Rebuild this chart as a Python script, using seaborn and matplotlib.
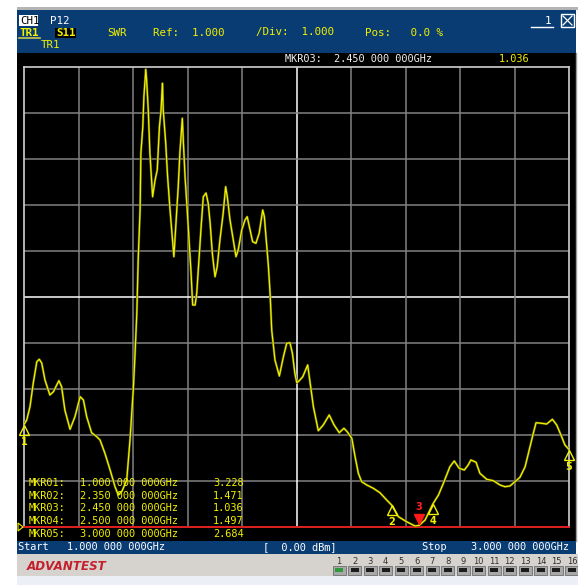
import matplotlib
matplotlib.use("Agg")
import matplotlib.pyplot as plt
import pandas as pd
import seaborn as sns
from matplotlib.patches import Rectangle, Polygon
from matplotlib.transforms import offset_copy

# ---- sweep settings ----
start_ghz, stop_ghz = 1.0, 3.0
ref_swr, swr_per_div = 1.0, 1.0
n_div = 10

# ---- measured S11 SWR trace ----
freq_ghz = [
    1.000, 1.010, 1.022, 1.034, 1.047, 1.056, 1.065, 1.077, 1.095, 1.108,
    1.128, 1.138, 1.150, 1.169, 1.187, 1.206, 1.218, 1.230, 1.248, 1.267,
    1.279, 1.297, 1.316, 1.334, 1.346, 1.360, 1.377, 1.389, 1.401, 1.407,
    1.414, 1.419, 1.426, 1.429, 1.436, 1.440, 1.447, 1.450, 1.456, 1.462,
    1.468, 1.472, 1.481, 1.489, 1.497, 1.503, 1.508, 1.511, 1.520, 1.527,
    1.536, 1.544, 1.550, 1.557, 1.566, 1.572, 1.581, 1.585, 1.591, 1.599,
    1.607, 1.613, 1.619, 1.628, 1.634, 1.642, 1.650, 1.658, 1.668, 1.676,
    1.683, 1.691, 1.701, 1.709, 1.719, 1.731, 1.740, 1.746, 1.756, 1.768,
    1.778, 1.786, 1.799, 1.811, 1.819, 1.827, 1.839, 1.851, 1.863, 1.876,
    1.882, 1.891, 1.897, 1.903, 1.909, 1.921, 1.937, 1.952, 1.964, 1.976,
    1.985, 1.994, 2.001, 2.010, 2.023, 2.041, 2.050, 2.062, 2.080, 2.098,
    2.120, 2.138, 2.157, 2.174, 2.186, 2.203, 2.215, 2.227, 2.239, 2.258,
    2.282, 2.306, 2.331, 2.350, 2.374, 2.404, 2.435, 2.450, 2.472, 2.500,
    2.521, 2.539, 2.551, 2.563, 2.579, 2.597, 2.616, 2.630, 2.640, 2.659,
    2.673, 2.698, 2.722, 2.747, 2.765, 2.783, 2.802, 2.820, 2.839, 2.857,
    2.869, 2.879, 2.900, 2.918, 2.939, 2.955, 2.973, 2.985, 3.000]
swr = [
    3.228, 3.326, 3.615, 4.130, 4.593, 4.646, 4.565, 4.196, 3.870, 3.941,
    4.180, 4.050, 3.543, 3.124, 3.398, 3.833, 3.761, 3.398, 3.050, 2.963,
    2.891, 2.602, 2.239, 1.876, 1.696, 1.783, 2.022, 2.891, 3.978, 4.702,
    5.646, 6.804, 7.891, 9.130, 9.702, 10.354, 10.950, 10.717, 10.065, 9.130,
    8.543, 8.180, 8.543, 8.761, 9.702, 10.065, 10.646, 10.065, 9.348, 8.615,
    7.891, 7.311, 6.876, 7.528, 8.398, 9.130, 9.885, 9.348, 8.615, 7.891,
    7.093, 6.522, 5.826, 5.826, 6.087, 6.804, 7.528, 8.180, 8.261, 8.037,
    7.609, 6.957, 6.441, 6.659, 7.239, 7.826, 8.398, 8.180, 7.674, 7.239,
    6.876, 7.022, 7.457, 7.674, 7.746, 7.528, 7.202, 7.167, 7.385, 7.891,
    7.746, 7.093, 6.659, 6.087, 5.283, 4.630, 4.283, 4.702, 4.993, 5.007,
    4.776, 4.341, 4.137, 4.180, 4.267, 4.522, 4.130, 3.615, 3.093, 3.217,
    3.435, 3.217, 3.050, 3.146, 3.072, 2.928, 2.528, 2.167, 1.985, 1.913,
    1.841, 1.746, 1.587, 1.471, 1.224, 1.115, 1.022, 1.036, 1.152, 1.497,
    1.696, 1.950, 2.130, 2.311, 2.435, 2.276, 2.239, 2.348, 2.457, 2.407,
    2.167, 2.037, 2.007, 1.913, 1.876, 1.891, 1.985, 2.080, 2.311, 2.746,
    3.037, 3.267, 3.254, 3.239, 3.341, 3.217, 2.963, 2.783, 2.684]

# ---- markers ----
mkr_names = ["MKR01", "MKR02", "MKR03", "MKR04", "MKR05"]
mkr_freq = [1.000, 2.350, 2.450, 2.500, 3.000]
mkr_swr = [3.228, 1.471, 1.036, 1.497, 2.684]
active_mkr = 2

button_labels = [str(i) for i in range(1, 17)]

W, H = 578, 585
YEL = "#f0f000"
BLUE = "#0a3c74"
MONO = "DejaVu Sans Mono"

fig = plt.figure(figsize=(W / 100, H / 100), dpi=100, facecolor="white")

# pixel-space layer behind the graticule
bg = fig.add_axes([0, 0, 1, 1], zorder=0)
bg.set_xlim(0, W); bg.set_ylim(H, 0); bg.axis("off")

def rect(axx, x0, y0, x1, y1, fc, ec="none", lw=0, **kw):
    axx.add_patch(Rectangle((x0, y0), x1 - x0, y1 - y0, facecolor=fc,
                            edgecolor=ec, linewidth=lw, **kw))

rect(bg, 17, 7, 578, 10, "#b4b4b4")
rect(bg, 17, 10, 576, 53, BLUE)
rect(bg, 17, 53, 576, 541, "black")
rect(bg, 17, 541, 576, 554, BLUE)
rect(bg, 17, 554, 578, 576, "#d6d3ce")
rect(bg, 17, 576, 578, 585, "#eceff6")
bg.plot([576, 576], [53, 541], color="#9a9a9a", lw=1)

# ---- graticule ----
gx0, gx1, gy0, gy1 = 24, 569, 67, 527
ax = fig.add_axes([gx0 / W, 1 - gy1 / H, (gx1 - gx0) / W, (gy1 - gy0) / H], zorder=2)
ax.set_facecolor("black")
ax.set_xlim(start_ghz, stop_ghz)
ax.set_ylim(ref_swr, ref_swr + n_div * swr_per_div)
ax.set_xticks([]); ax.set_yticks([])
for s in ax.spines.values():
    s.set_color("#d0d0d0"); s.set_linewidth(1.2)

step_f = (stop_ghz - start_ghz) / n_div
for i in range(1, n_div):
    c = "white" if i == n_div // 2 else "#828282"
    ax.axvline(start_ghz + i * step_f, color=c, lw=1.1, zorder=1)
    ax.axhline(ref_swr + i * swr_per_div, color=c, lw=1.1, zorder=1)
ax.axhline(ref_swr, color="#e01010", lw=1.3, zorder=3, clip_on=False)

trace = pd.DataFrame({"freq": freq_ghz, "swr": swr})
sns.lineplot(data=trace, x="freq", y="swr", ax=ax, color="#5c5c00",
             linewidth=1.7, estimator=None, zorder=4)
sns.lineplot(data=trace, x="freq", y="swr", ax=ax, color=YEL,
             linewidth=0.9, estimator=None, zorder=5)
ax.set_xlabel(""); ax.set_ylabel("")

# marker symbols
for i, (f, v) in enumerate(zip(mkr_freq, mkr_swr)):
    if i == active_mkr:
        tr = offset_copy(ax.transData, fig=fig, x=0, y=6, units="dots")
        ax.plot([f], [v], marker="v", ms=7.5, color="#ff1a1a", mec="#ff1a1a",
                transform=tr, clip_on=False, zorder=8)
        ax.annotate(str(i + 1), (f, v), xytext=(0, 18), textcoords="offset pixels",
                    ha="center", va="center", color="#ff2020", fontsize=7,
                    fontweight="bold", annotation_clip=False, zorder=8)
    else:
        tr = offset_copy(ax.transData, fig=fig, x=0, y=-5, units="dots")
        ax.plot([f], [v], marker="^", ms=7, mfc="none", mec=YEL, mew=1.0,
                transform=tr, clip_on=False, zorder=8)
        ax.annotate(str(i + 1), (f, v), xytext=(0, -17), textcoords="offset pixels",
                    ha="center", va="center", color=YEL, fontsize=7,
                    fontweight="bold", annotation_clip=False, zorder=8)

# ---- foreground text layer ----
fg = fig.add_axes([0, 0, 1, 1], zorder=5)
fg.set_xlim(0, W); fg.set_ylim(H, 0); fg.axis("off"); fg.patch.set_alpha(0)

def txt(x, y, s, color="white", size=7.4, **kw):
    fg.text(x, y, s, color=color, fontsize=size, family=MONO,
            ha="left", va="center", **kw)

# header
rect(fg, 19, 15, 38, 26, "white")
txt(20, 20.5, "CH1", color="black", size=7.8)
txt(50, 20.5, "P12", size=7.8)
txt(20, 32.5, "TR1", color=YEL, size=7.8, fontweight="bold")
fg.plot([19, 40], [38, 38], color="#c8c850", lw=1.2)
rect(fg, 55, 28, 76, 38, "black")
txt(56, 32.5, "S11", color=YEL, size=7.8, fontweight="bold")
txt(107, 32.5, "SWR", color=YEL, size=7.8)
txt(153, 32.5, f"Ref:  {ref_swr:.3f}", color=YEL, size=7.8)
txt(256, 32.5, f"/Div:  {swr_per_div:.3f}", color=YEL, size=7.8)
txt(365, 32.5, "Pos:   0.0 %", color=YEL, size=7.8)
txt(41, 45, "TR1", color=YEL, size=7.8)
txt(545, 20.5, "1", size=8)
fg.plot([531, 553], [26.5, 26.5], color="white", lw=1)
rect(fg, 561, 14, 574, 27, "none", ec="white", lw=1)
fg.plot([563, 572], [16, 25], color="white", lw=0.9)
fg.plot([563, 572], [25, 16], color="white", lw=0.9)

# active marker readout
fa, va = mkr_freq[active_mkr], mkr_swr[active_mkr]
txt(285, 59.5, f"{mkr_names[active_mkr]}:  {fa:.3f} 000 000GHz", color="#f0f0f0")
txt(499, 59.5, f"{va:.3f}", color=YEL)

# marker table
for i, (n, f, v) in enumerate(zip(mkr_names, mkr_freq, mkr_swr)):
    y = 483 + i * 12.7
    txt(29, y, f"{n}:", color=YEL)
    txt(80, y, f"{f:.3f} 000 000GHz", color=YEL)
    txt(213, y, f"{v:.3f}", color=YEL)

# reference level pointer
fg.add_patch(Polygon([[18, 523], [18, 531], [23, 527]], closed=True,
                     facecolor="none", edgecolor=YEL, lw=0.8))

# status bar
txt(18, 547.5, f"Start   {start_ghz:.3f} 000 000GHz")
txt(263, 547.5, "[  0.00 dBm]")
txt(422, 547.5, f"Stop    {stop_ghz:.3f} 000 000GHz")

# brand and channel buttons
fg.text(27, 567, "ADVANTEST", color="#c4202c", fontsize=8.6, fontweight="bold",
        fontstyle="italic", family="DejaVu Sans", ha="left", va="center")
for k, lab in enumerate(button_labels):
    cx = 339 + k * 15.53
    fg.text(cx, 561, lab, color="#303030", fontsize=6, family="DejaVu Sans",
            ha="center", va="center")
    rect(fg, cx - 6.5, 566, cx + 6.5, 575, "#a8a8a8", ec="#707070", lw=0.6)
    rect(fg, cx - 4, 568, cx + 4, 572, "#2f9a3c" if k == 0 else "#1c1c1c")

fig.savefig("out.png", dpi=100, facecolor="white")
